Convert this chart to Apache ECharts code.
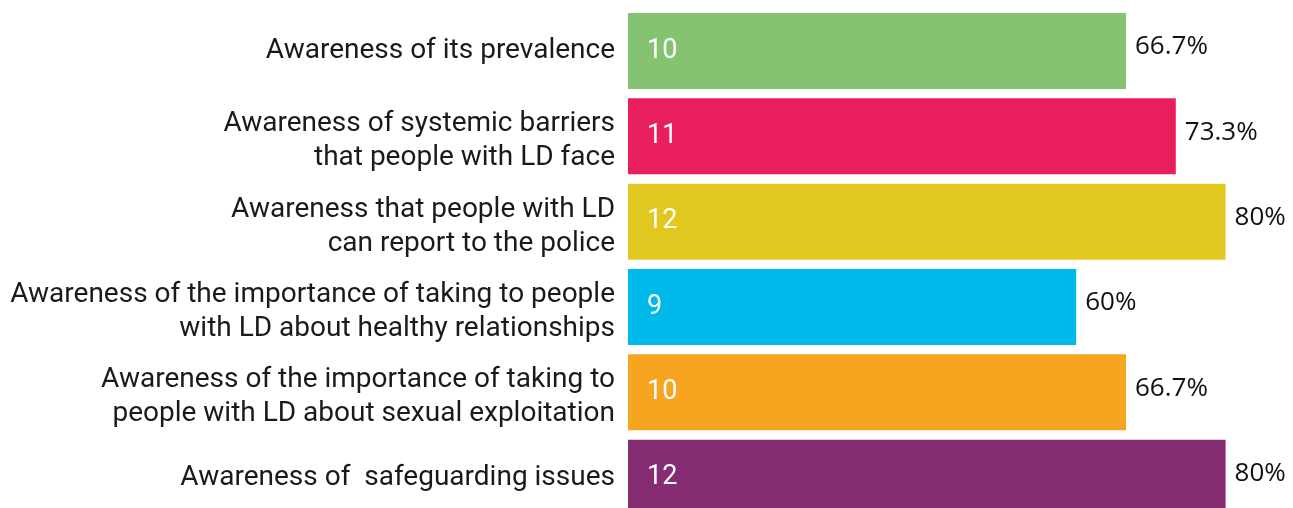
<!DOCTYPE html>
<html>
<head>
<meta charset="utf-8">
<script src="https://cdn.jsdelivr.net/npm/echarts@6/dist/echarts.min.js"></script>
<style>
  html, body { margin: 0; padding: 0; background: #fff; }
  #chart { width: 1293px; height: 508px; }
</style>
</head>
<body>
<div id="chart"></div>
<script>
// categories, top to bottom
var categories = [
  'Awareness of its prevalence',
  'Awareness of systemic barriers\nthat people with LD face',
  'Awareness that people with LD\ncan report to the police',
  'Awareness of the importance of taking to people\nwith LD about healthy relationships',
  'Awareness of the importance of taking to\npeople with LD about sexual exploitation',
  'Awareness of  safeguarding issues'
];
var counts = [10, 11, 12, 9, 10, 12];
var percents = ['66.7%', '73.3%', '80%', '60%', '66.7%', '80%'];
var barColors = ['#85C372', '#E91E5D', '#E1C821', '#00B9EB', '#F6A521', '#852C72'];

var chart = echarts.init(document.getElementById('chart'));

var barData = counts.map(function (v, i) {
  return { value: v, itemStyle: { color: barColors[i] } };
});

chart.setOption({
  animation: false,
  grid: {
    left: 628, top: 8.3, height: 512, right: 17.6,
    containLabel: false, outerBoundsMode: 'none'
  },
  xAxis: {
    type: 'value', min: 0, max: 13,
    show: false
  },
  yAxis: {
    type: 'category',
    data: categories,
    inverse: true,
    axisLine: { show: false },
    axisTick: { show: false },
    axisLabel: {
      margin: 13,
      color: '#1a1a1a',
      fontFamily: 'Roboto',
      fontSize: 28,
      lineHeight: 34,
      align: 'right',
      // two-line labels sit a little lower than the bar centre in the original
      formatter: function (v) {
        var lines = v.split('\n');
        if (lines.length < 2) return v;
        return '{gap|\u200b}\n' + lines.map(function (l) { return '{t|' + l + '}'; }).join('\n');
      },
      rich: {
        gap: { fontSize: 2, lineHeight: 10 },
        t: { fontFamily: 'Roboto', fontSize: 28, lineHeight: 34, color: '#1a1a1a' }
      }
    }
  },
  series: [
    {
      // counts inside bars
      type: 'bar',
      data: barData,
      barWidth: 76,
      label: {
        show: true,
        position: 'insideLeft',
        distance: 19,
        color: '#fff',
        fontFamily: 'Roboto',
        fontSize: 27
      }
    },
    {
      // percentage labels next to bar ends
      type: 'bar',
      data: counts,
      barWidth: 76,
      barGap: '-100%',
      itemStyle: { color: 'transparent' },
      silent: true,
      label: {
        show: true,
        position: 'right',
        distance: 9,
        offset: [0, -4],
        color: '#111',
        fontFamily: 'Open Sans',
        fontSize: 26,
        formatter: function (p) { return percents[p.dataIndex]; }
      }
    }
  ]
});
</script>
</body>
</html>
